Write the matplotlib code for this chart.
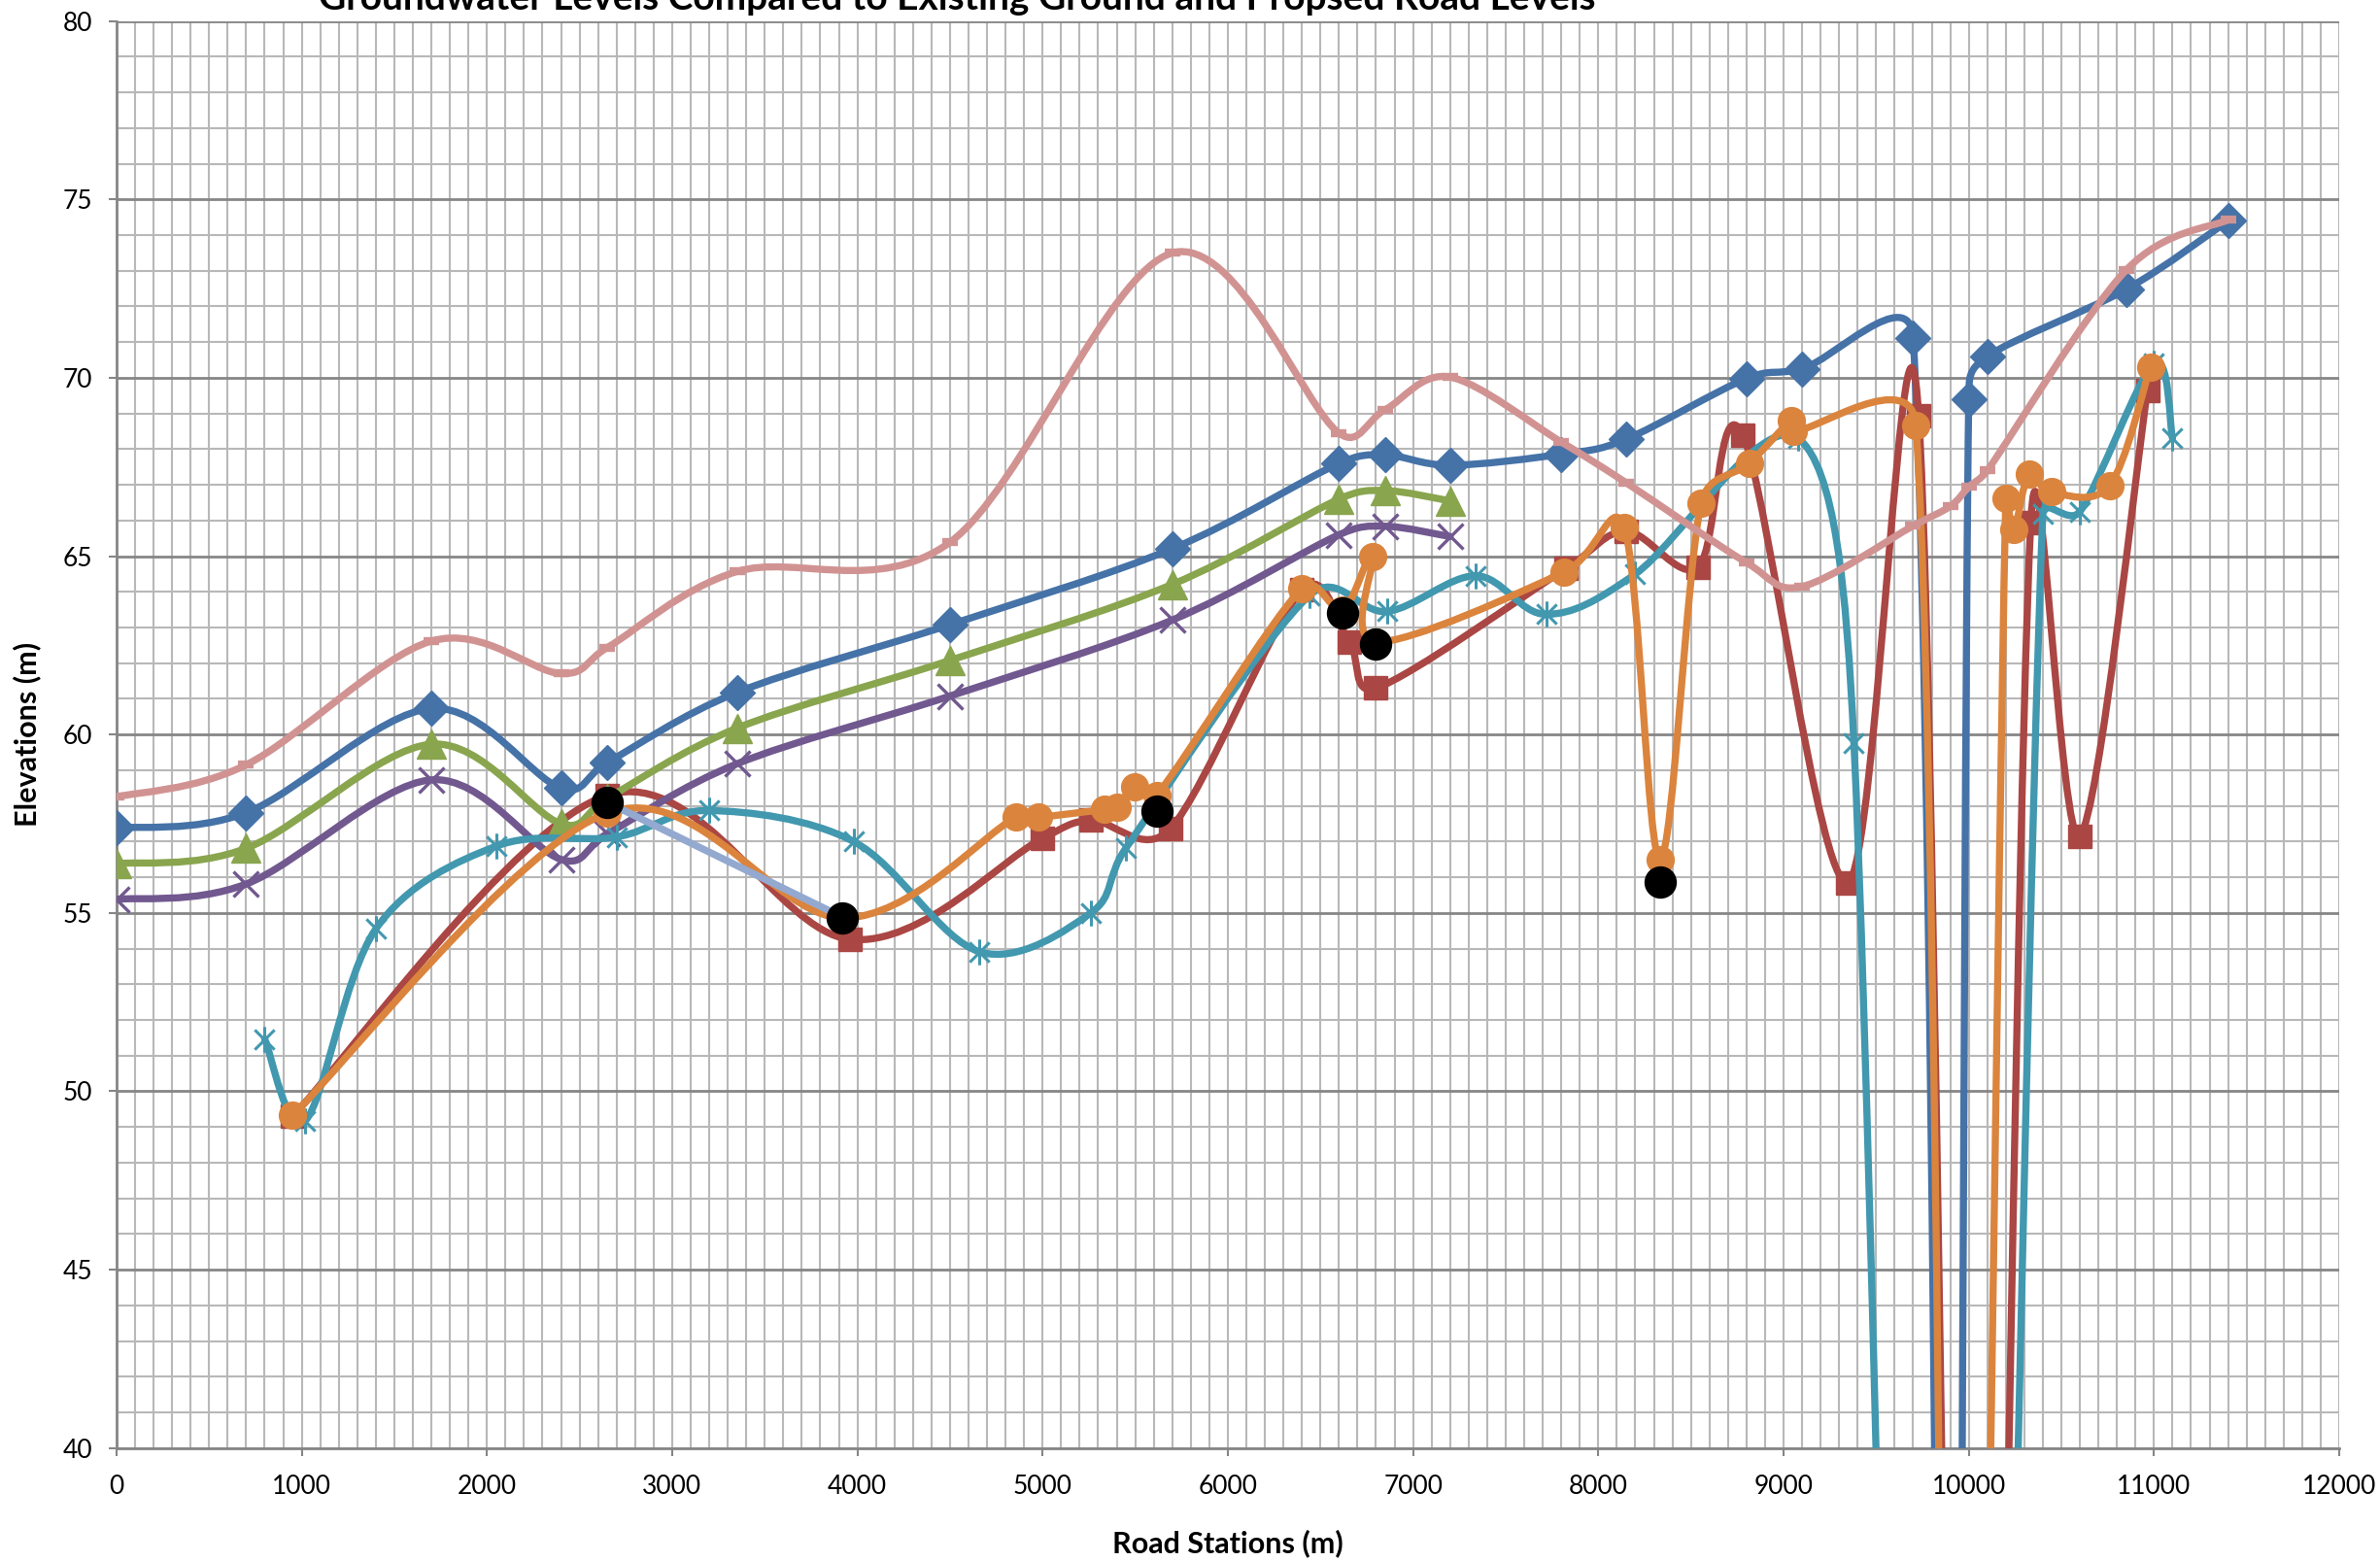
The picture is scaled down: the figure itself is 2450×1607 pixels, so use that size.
import numpy as np
import matplotlib.pyplot as plt
from matplotlib.path import Path
from matplotlib.patches import PathPatch

# stations shared by ground / road level series
stations = [0, 700, 1700, 2400, 2650, 3350, 4500, 5700, 6600, 6850, 7200,
            7800, 8150, 8800, 9100, 9700, 9900, 10000, 10100, 10850, 11400]
ground = [57.38, 57.81, 60.73, 58.5, 59.22, 61.18, 63.08, 65.21, 67.6, 67.84, 67.55,
          67.86, 68.28, 69.98, 70.25, 71.12, 0, 69.4, 70.6, 72.48, 74.4]
road = [58.25, 59.15, 62.62, 61.71, 62.44, 64.57, 65.39, 73.5, 68.45, 69.11, 70.02,
        68.2, 67.06, 64.82, 64.15, 65.85, 66.4, 66.94, 67.4, 73.02, 74.43]
ground_less1 = [56.38, 56.81, 59.73, 57.5, 58.22, 60.18, 62.08, 64.21, 66.6, 66.84, 66.55]
ground_less2 = [55.38, 55.81, 58.73, 56.5, 57.22, 59.18, 61.08, 63.21, 65.6, 65.84, 65.55]

gw1_x = [950, 2650, 3960, 5000, 5260, 5690, 6400, 6655, 6800, 7825, 8150, 8540, 8780,
         9345, 9730, 10020, 10335, 10600, 10965]
gw1_y = [49.3, 58.3, 54.26, 57.09, 57.6, 57.36, 64.05, 62.6, 61.3, 64.65, 65.7, 64.7, 68.4,
         55.85, 68.93, 0, 65.94, 57.15, 69.65]

gw2_x = [800, 1020, 1400, 2050, 2700, 3200, 3980, 4660, 5260, 5450, 6440, 6860, 7340,
         7720, 8200, 9080, 9380, 9900, 10400, 10600, 11000, 11100]
gw2_y = [51.46, 49.18, 54.55, 56.87, 57.13, 57.87, 57.0, 53.91, 55.0, 56.82, 63.9, 63.45,
         64.45, 63.37, 64.5, 68.3, 59.77, -20, 66.2, 66.25, 70.4, 68.3]

gw3_x = [950, 2650, 3920, 4855, 4975, 5335, 5400, 5495, 5615, 6400, 6620, 6780, 6800,
         7815, 8140, 8335, 8555, 8815, 9040, 9055, 9715, 9950, 10200, 10245, 10325,
         10445, 10760, 10980]
gw3_y = [49.32, 57.8, 54.86, 57.68, 57.68, 57.9, 57.95, 58.54, 58.3, 64.1, 63.5, 65.0, 62.6,
         64.55, 65.8, 56.5, 66.48, 67.6, 68.8, 68.5, 68.67, 0, 66.62, 65.76, 67.3,
         66.8, 66.98, 70.29]

link_x = [2650, 3920]
link_y = [58.1, 54.88]

obs_x = [2650, 3920, 5615, 6620, 6798, 8335]
obs_y = [58.09, 54.86, 57.86, 63.4, 62.53, 55.87]

plt.rcParams['font.family'] = ['Lato', 'DejaVu Sans']

fig = plt.figure(figsize=(24.5, 16.07), dpi=100)
ax = fig.add_axes([0.04894, 0.07237, 0.93392, 0.91413])
ax.set_xlim(0, 12000)
ax.set_ylim(40, 80)

ax.set_xticks(np.arange(0, 12001, 1000))
ax.set_xticks(np.arange(0, 12001, 100), minor=True)
ax.set_yticks(np.arange(40, 81, 5))
ax.set_yticks(np.arange(40, 81, 1), minor=True)
ax.set_axisbelow(True)
ax.grid(which='minor', color='#B8B8B8', lw=1.5)
ax.grid(which='major', axis='x', color='#B8B8B8', lw=1.5)
ax.grid(which='major', axis='y', color='#868686', lw=2)
ax.tick_params(which='minor', length=0)
ax.tick_params(which='major', direction='out', length=6, width=1.5, color='#868686',
               labelsize=19)
ax.tick_params(axis='y', pad=12)
ax.tick_params(axis='x', pad=14)
for s in ['top', 'right']:
    ax.spines[s].set_visible(False)
for s in ['left', 'bottom']:
    ax.spines[s].set_color('#868686')
    ax.spines[s].set_linewidth(2)


def smooth_path(xs, ys):
    # bezier smoothing in screen space, control points capped at half a segment
    pts = ax.transData.transform(np.column_stack([xs, ys]))
    n = len(pts)
    verts = [pts[0]]
    codes = [Path.MOVETO]
    for i in range(n - 1):
        p0 = pts[i - 1] if i > 0 else pts[i]
        p1 = pts[i]
        p2 = pts[i + 1]
        p3 = pts[i + 2] if i + 2 < n else pts[i + 1]
        d12 = np.hypot(*(p2 - p1))
        d02 = np.hypot(*(p2 - p0))
        d13 = np.hypot(*(p3 - p1))
        f0 = min(1 / 6, d12 / (2 * d02)) if d02 > 0 else 0
        f1 = min(1 / 6, d12 / (2 * d13)) if d13 > 0 else 0
        verts += [p1 + f0 * (p2 - p0), p2 - f1 * (p3 - p1), p2]
        codes += [Path.CURVE4] * 3
    return Path(ax.transData.inverted().transform(np.array(verts)), codes)


star = Path([(-1, -1), (1, 1), (-1, 1), (1, -1), (0, -1.3), (0, 1.3)],
            [Path.MOVETO, Path.LINETO, Path.MOVETO, Path.LINETO, Path.MOVETO, Path.LINETO])

series = [
    (stations, ground, '#4572A7', 'D', 18, 1),
    (gw1_x, gw1_y, '#AA4643', 's', 17, 1),
    (stations[:11], ground_less1, '#89A54E', '^', 21, 1),
    (stations[:11], ground_less2, '#71588F', 'x', 19, 2.4),
    (gw2_x, gw2_y, '#4198AF', star, 19, 2.2),
    (gw3_x, gw3_y, '#DB843D', 'o', 20, 1),
    (link_x, link_y, '#93A9CF', None, 0, 1),
    (stations, road, '#D19392', '_', 11, 6),
]

for i, (xs, ys, c, m, ms, mew) in enumerate(series):
    ax.add_patch(PathPatch(smooth_path(xs, ys), fill=False, edgecolor=c, lw=5.3,
                           capstyle='round', joinstyle='round', zorder=3 + i))
    if m is not None:
        ax.plot(xs, ys, ls='none', marker=m, ms=ms, color=c, mec=c, mew=mew, zorder=3.5 + i)

ax.plot(obs_x, obs_y, ls='none', marker='o', ms=23, color='black', zorder=20)

fig.text(0.402, 0.9938, 'Groundwater Levels Compared to Existing Ground and Propsed Road Levels',
         ha='center', va='baseline', fontsize=28, fontweight='bold')
fig.text(0.5159, 0.0112, 'Road Stations (m)', ha='center', va='center',
         fontsize=22, fontweight='bold')
fig.text(0.01143, 0.5296, 'Elevations (m)', ha='center', va='center', rotation=90,
         fontsize=22, fontweight='bold')

fig.savefig('out.png', dpi=100)
